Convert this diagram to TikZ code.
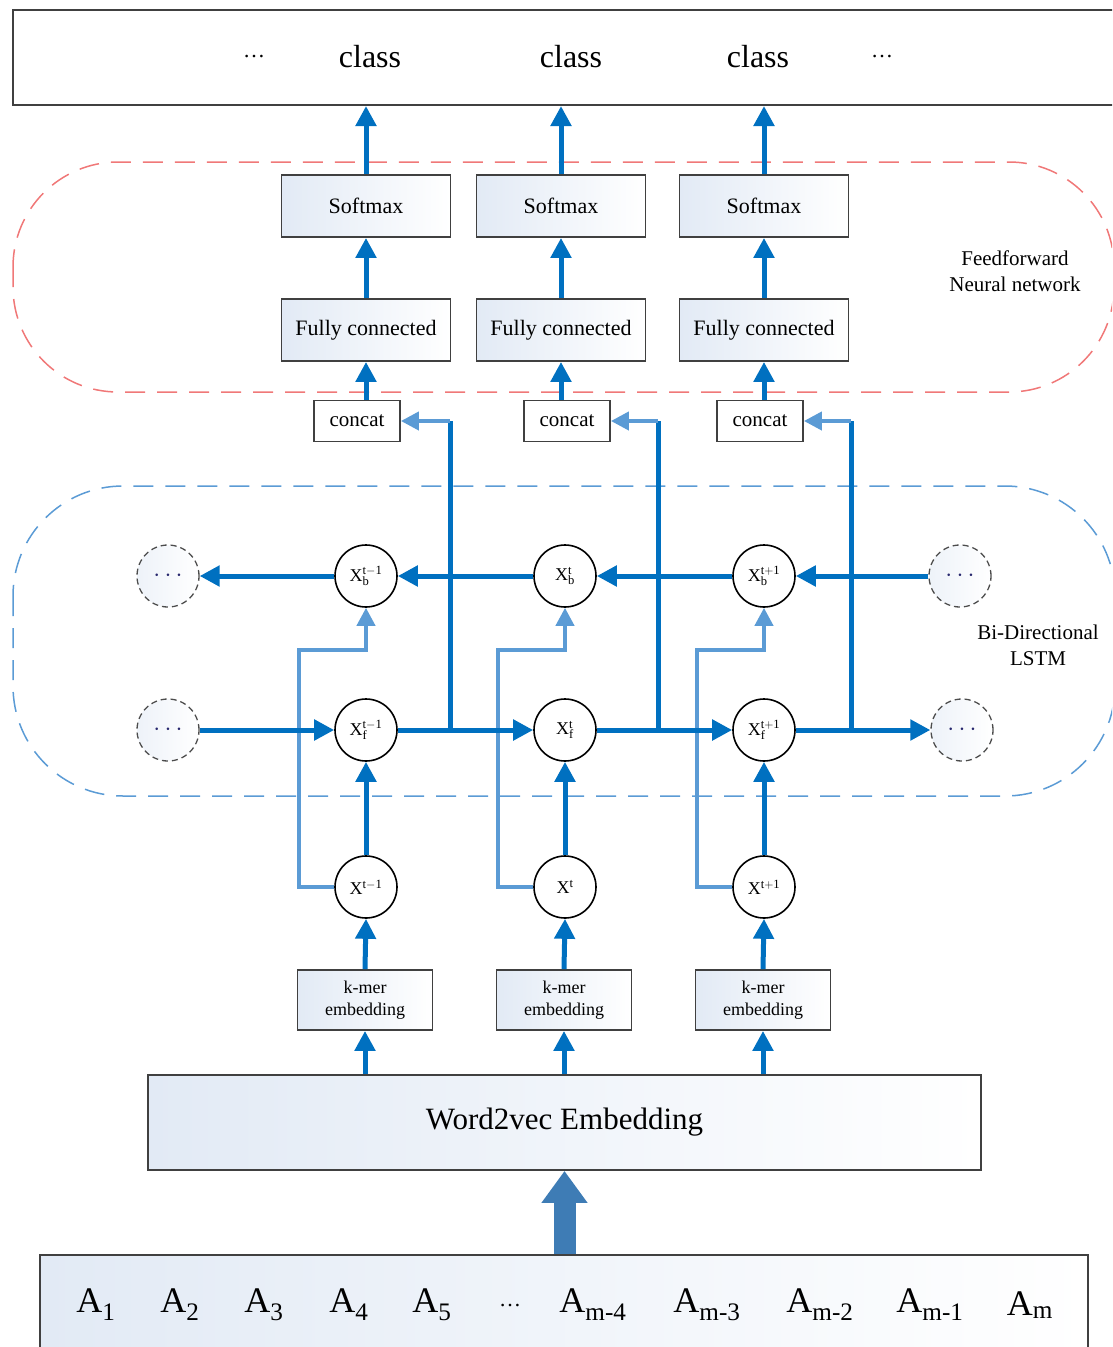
\documentclass[tikz,border=0pt]{standalone}
\usepackage{fontspec}
\setmainfont{Liberation Serif}
\usetikzlibrary{arrows.meta}
\definecolor{darkblue}{RGB}{0,112,192}
\definecolor{liteblue}{RGB}{91,155,213}
\definecolor{fatblue}{RGB}{62,124,181}
\definecolor{ffred}{RGB}{240,120,120}
\definecolor{boxfill}{RGB}{226,234,245}
\definecolor{navy}{RGB}{40,40,110}
\newcommand{\fs}[1]{\fontsize{#1}{#1}\selectfont}
\begin{document}
\begin{tikzpicture}[x=1pt,y=-1pt,
  box/.style={draw=black!75,line width=1.8pt,left color=boxfill,right color=white,inner sep=1pt,align=center},
  smbox/.style={box,minimum width=169pt,minimum height=62pt,font=\fs{22}},
  catbox/.style={box,left color=white,minimum width=86pt,minimum height=41pt,font=\fs{21}},
  kbox/.style={box,minimum width=135pt,minimum height=60pt,font=\fontsize{18}{22}\selectfont},
  cell/.style={circle,draw=black,line width=1.6pt,fill=white,minimum size=62pt,inner sep=0pt,font=\fs{18}},
  dcell/.style={circle,draw=black!70,dash pattern=on 6pt off 4pt,line width=1.3pt,left color=boxfill!60,right color=white,minimum size=62pt,inner sep=0pt,text=navy,font=\fs{24}},
  arr/.style={draw=darkblue,line width=5pt,-{Triangle[length=20pt,width=20pt]}},
  lite/.style={draw=liteblue,line width=4pt,-{Triangle[length=18pt,width=18pt]}},
  lbl/.style={align=center,font=\fontsize{21}{26}\selectfont}]
\useasboundingbox (0,0) rectangle (1112,1347);
\clip (0,0) rectangle (1112,1347);
% regions
\draw[ffred,line width=1.5pt,dash pattern=on 20pt off 12pt,rounded corners=105pt] (13,162) rectangle (1114,392);
\draw[liteblue,line width=1.5pt,dash pattern=on 20pt off 12pt,rounded corners=110pt] (13,486) rectangle (1115,796);
\node[lbl] (fflbl) at (1015,271) {Feedforward\\Neural network};
\node[lbl] (lstmlbl) at (1038,645) {Bi-Directional\\LSTM};
% output row
\node[draw=black!75,line width=2pt,fill=white,minimum width=1117pt,minimum height=95pt] (top) at (571.5,57.5) {};
\node[font=\fs{22}] (dl) at (254,57) {\dots};
\node[font=\fs{32}] (cl1) at (370,57) {class};
\node[font=\fs{32}] (cl2) at (571,57) {class};
\node[font=\fs{32}] (cl3) at (758,57) {class};
\node[font=\fs{22}] (dr) at (882,57) {\dots};
% feedforward
\node[smbox] (s1) at (366,206) {Softmax};
\node[smbox] (s2) at (561,206) {Softmax};
\node[smbox] (s3) at (764,206) {Softmax};
\node[smbox] (f1) at (366,330) {Fully connected};
\node[smbox] (f2) at (561,330) {Fully connected};
\node[smbox] (f3) at (764,330) {Fully connected};
\node[catbox] (c1) at (357,421) {concat};
\node[catbox] (c2) at (567,421) {concat};
\node[catbox] (c3) at (760,421) {concat};
% lstm
\node[dcell] (lb) at (168,576) {$\cdots$};
\node[cell] (xb1) at (366,576) {$\mathrm{X}_{\mathrm{b}}^{\mathrm{t-1}}$};
\node[cell] (xb2) at (565,576) {$\mathrm{X}_{\mathrm{b}}^{\mathrm{t}}$};
\node[cell] (xb3) at (764,576) {$\mathrm{X}_{\mathrm{b}}^{\mathrm{t+1}}$};
\node[dcell] (rb) at (960,576) {$\cdots$};
\node[dcell] (lf) at (168,730) {$\cdots$};
\node[cell] (xf1) at (366,730) {$\mathrm{X}_{\mathrm{f}}^{\mathrm{t-1}}$};
\node[cell] (xf2) at (565,730) {$\mathrm{X}_{\mathrm{f}}^{\mathrm{t}}$};
\node[cell] (xf3) at (764,730) {$\mathrm{X}_{\mathrm{f}}^{\mathrm{t+1}}$};
\node[dcell] (rf) at (962,730) {$\cdots$};
\node[cell] (x1) at (366,887) {$\mathrm{X}^{\mathrm{t-1}}$};
\node[cell] (x2) at (565,887) {$\mathrm{X}^{\mathrm{t}}$};
\node[cell] (x3) at (764,887) {$\mathrm{X}^{\mathrm{t+1}}$};
\coordinate (j1) at (450,730);
\coordinate (j2) at (658,730);
\coordinate (j3) at (851,730);
% embedding
\node[kbox] (k1) at (365,1000) {k-mer\\embedding};
\node[kbox] (k2) at (564,1000) {k-mer\\embedding};
\node[kbox] (k3) at (763,1000) {k-mer\\embedding};
\node[box,minimum width=833pt,minimum height=95pt,font=\fs{31}] (w2v) at (564.5,1122.5) {Word2vec Embedding};
\node[box,minimum width=1048pt,minimum height=125pt] (seq) at (564,1317.5) {};
\foreach \x/\t in {96/A\textsubscript{1},180/A\textsubscript{2},264/A\textsubscript{3},349/A\textsubscript{4},432/A\textsubscript{5},593/A\textsubscript{m-4},707/A\textsubscript{m-3},820/A\textsubscript{m-2},930/A\textsubscript{m-1},1030/A\textsubscript{m}}
  \node[font=\fs{36}] at (\x,1305) {\t};
\node[font=\fs{22}] (dm) at (510,1305) {\dots};
% connectors
\foreach \i in {1,2,3}{
  \draw[arr] (s\i.north) -- (s\i.north |- top.south);
  \draw[arr] (f\i.north) -- (s\i.south);
  \draw[arr] (f\i.south |- c\i.north) -- (f\i.south);
  \draw[darkblue,line width=5pt] (j\i) -- (j\i |- c\i.east);
  \draw[lite] (j\i |- c\i.east) -- (c\i.east);
  \draw[lite] (x\i.west) -| ++(-35,-237) -| (xb\i.south);
  \draw[arr] (x\i.north) -- (xf\i.south);
  \draw[arr] (k\i.north) -- (x\i.south);
  \draw[arr] (k\i.south |- w2v.north) -- (k\i.south);
}
\draw[arr] (rb) -- (xb3);
\draw[arr] (xb3) -- (xb2);
\draw[arr] (xb2) -- (xb1);
\draw[arr] (xb1) -- (lb);
\draw[arr] (lf) -- (xf1);
\draw[arr] (xf1) -- (xf2);
\draw[arr] (xf2) -- (xf3);
\draw[arr] (xf3) -- (rf);
\draw[fatblue,line width=22pt,-{Triangle[length=32pt,width=44pt]}] (seq.north -| w2v.south) -- (w2v.south);
\end{tikzpicture}
\end{document}
